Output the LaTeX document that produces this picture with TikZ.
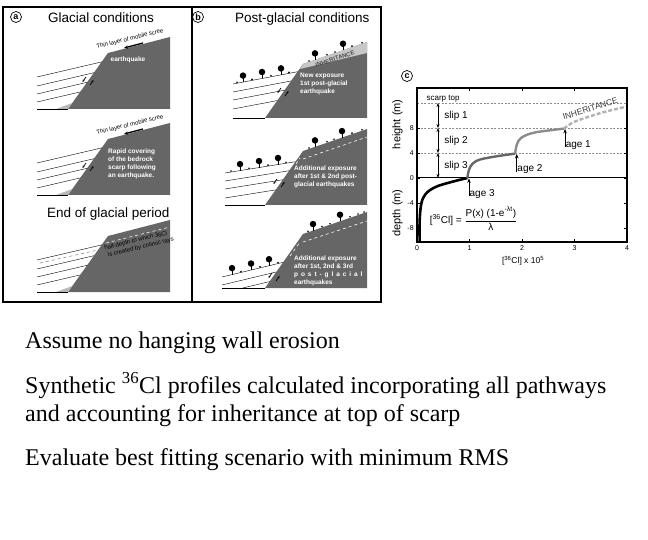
\documentclass[tikz,border=0pt]{standalone}
\usepackage{amsmath}
\usepackage{fontspec}
\setmainfont{Liberation Sans}
\newfontfamily\slidefont{Liberation Serif}
\usetikzlibrary{arrows.meta}

\begin{document}
\begin{tikzpicture}[x=1pt, y=-1pt,
  fw/.style={fill=black!60},
  lay/.style={line width=0.4pt},
  wedge/.style={fill=black!28},
  wtxt/.style={text=white, font=\bfseries\fontsize{6.5}{8}\selectfont, align=left, inner sep=0pt},
  btxt/.style={font=\fontsize{6}{7.5}\selectfont, inner sep=0pt},
  ttl/.style={font=\fontsize{13.5}{15}\selectfont, inner sep=0pt, anchor=base west},
  tag/.style={circle, draw, line width=0.7pt, inner sep=0pt, minimum size=11pt, font=\bfseries\fontsize{9}{9}\selectfont},
  tree/.style={circle, fill, inner sep=0pt, minimum size=6.5pt},
  trunk/.style={line width=0.8pt},
  sarr/.style={-{Stealth[length=2.5pt,width=2.2pt]}, line width=0.7pt},
  scr/.style={-{Stealth[length=4pt,width=3.2pt]}, line width=1.3pt},
  halfd/.style={white, dash pattern=on 3pt off 3pt, line width=0.6pt},
  slide/.style={font=\slidefont\fontsize{24}{28}\selectfont, inner sep=0pt, anchor=base west},
  tlab/.style={font=\fontsize{7}{8}\selectfont, inner sep=1pt},
  plab/.style={font=\fontsize{10}{12}\selectfont, inner sep=1pt},
  alab/.style={font=\fontsize{11}{12}\selectfont, inner sep=0pt},
  gline/.style={black!45, dash pattern=on 2pt off 1.5pt, line width=0.5pt},
  darr/.style={{Stealth[length=4pt,width=3pt]}-{Stealth[length=4pt,width=3pt]}, line width=0.8pt},
  uarr/.style={-{Stealth[length=4.5pt,width=3.5pt]}, line width=0.8pt}]

\fill[white] (0,0) rectangle (648,540);
\useasboundingbox (0,0) rectangle (648,540);

\draw[line width=1.4pt] (3,7) rectangle (381,302);
\draw[line width=1.2pt] (192,7) -- (192,302);

\node[tag] (taga) at (16,17) {a};
\node[ttl] (ttla) at (48,23) {Glacial conditions};
\node[tag] (tagb) at (198,17) {b};
\node[ttl] (ttlb) at (235,23) {Post-glacial conditions};
\node[ttl] (ttla3) at (47,218) {End of glacial period};

\foreach \dy in {0,86,183}{
\begin{scope}[shift={(0,\dy)}]
\fill[fw] (68,109) -- (108,53) -- (170,37) -- (170,109) -- cycle;
\begin{scope}
\clip (37,109) -- (68,109) -- (108,53) -- (37,53) -- cycle;
\foreach \y in {77,86,94,102} \draw[lay] (37,\y) -- ++(90,-21);
\fill[wedge] (56,109) -- (68,109) -- (72.3,103) -- cycle;
\end{scope}
\draw[lay] (37,109) -- (68,109);
\end{scope}
}

\foreach \c in {81,167}{
\begin{scope}[shift={(88,\c)}]
\draw[sarr] (-2,-4) -- (-5.5,1);
\draw[sarr] (2,4) -- (5.5,-1);
\end{scope}
}

\node[wtxt] (eq) at (128,60) {earthquake};
\node[btxt, rotate=14] (scree1) at (130,39) {Thin layer of mobile scree};
\draw[scr] (143,43) -- (124,48);

\node[btxt, rotate=14] (scree2) at (130,125) {Thin layer of mobile scree};
\draw[scr] (143,129) -- (124,134);
\node[wtxt, anchor=north west] (rapid) at (108,149) {Rapid covering\\of the bedrock\\scarp following\\an earthquake.};

\draw[halfd] (106,243) -- (170,227);
\draw[black!45, dash pattern=on 3pt off 3pt, line width=0.6pt] (40,263) -- (98,250);
\node[btxt, rotate=13.5, align=left] (hd) at (139,244) {half-depth to which 36Cl\\\hspace*{2pt}is created by cosmic rays};

\foreach \yb/\xl/\yt/\sl in {118/233/84/-19, 205/225/173/-16, 288/222/277/-24}{
\fill[fw] (265,\yb) -- (303,\yb-54) -- (367,\yb-76) -- (367,\yb) -- cycle;
\begin{scope}
\clip (\xl,\yb) -- (265,\yb) -- (303,\yb-54) -- (\xl,\yb-54) -- cycle;
\foreach \k in {0,8,16,25} \draw[lay] (\xl,\yt+\k) -- ++(100,\sl);
\end{scope}
\draw[lay] (\xl,\yb) -- (265,\yb);
}

\fill[black!22] (303,64) -- (367,42) -- (367,53) -- (300,69) -- cycle;
\node[font=\bfseries\fontsize{6}{7}\selectfont, text=black!70, rotate=18, inner sep=0pt] (inh) at (335,59) {INHERITANCE};
\draw[white, line width=0.6pt] (297,71) -- (300,67);
\draw[halfd] (303,159) -- (367,137);
\draw[halfd] (303,242) -- (367,221);
\draw[halfd] (296,164) -- (300,158);
\draw[halfd] (290,256) -- (300,242);

\foreach \cx/\cy in {283/92,279/183,274/277}{
\begin{scope}[shift={(\cx,\cy)}]
\draw[sarr] (-2,-4) -- (-5.5,1);
\draw[sarr] (2,4) -- (5.5,-1);
\end{scope}
}

\foreach \x in {243,262,281}{
\draw[trunk] (\x,{84-0.19*(\x-233)}) -- ++(0,-4);
\node[tree] (ta\x) at (\x,{84-0.19*(\x-233)-6.5}) {};
}
\foreach \x in {315,343}{
\draw[trunk] (\x,{64-0.344*(\x-303)}) -- ++(0,-4);
\node[tree] (tb\x) at (\x,{64-0.344*(\x-303)-6.5}) {};
}
\foreach \x in {240,259,278}{
\draw[trunk] (\x,{173-0.16*(\x-225)}) -- ++(0,-4);
\node[tree] (tc\x) at (\x,{173-0.16*(\x-225)-6.5}) {};
}
\foreach \x in {315,342}{
\draw[trunk] (\x,{151-0.344*(\x-303)}) -- ++(0,-4);
\node[tree] (td\x) at (\x,{151-0.344*(\x-303)-6.5}) {};
}
\foreach \x in {232,251,269}{
\draw[trunk] (\x,{277-0.24*(\x-222)}) -- ++(0,-4);
\node[tree] (te\x) at (\x,{277-0.24*(\x-222)-6.5}) {};
}
\foreach \x in {313,340}{
\draw[trunk] (\x,{234-0.344*(\x-303)}) -- ++(0,-4);
\node[tree] (tf\x) at (\x,{234-0.344*(\x-303)-6.5}) {};
}

\foreach \x in {237,252,271,289} \fill (\x,{84-0.19*(\x-233)-1}) circle (0.9);
\foreach \x in {309,327,335,352,362} \fill (\x,{64-0.344*(\x-303)-1}) circle (0.9);
\foreach \x in {231,249,268,286} \fill (\x,{173-0.16*(\x-225)-1}) circle (0.9);
\foreach \x in {309,327,334,352,362} \fill (\x,{151-0.344*(\x-303)-1}) circle (0.9);
\foreach \x in {241,260,278} \fill (\x,{277-0.24*(\x-222)-1}) circle (0.9);
\foreach \x in {308,322,330,350,358,364} \fill (\x,{234-0.344*(\x-303)-1}) circle (0.9);

\node[wtxt, anchor=north west] (newx) at (300,73) {New exposure\\1st post-glacial\\earthquake};
\node[wtxt, anchor=north west] (add2) at (294,166) {Additional exposure\\after 1st \& 2nd post-\\glacial earthquakes};
\node[wtxt, anchor=north west] (add3) at (294,256) {Additional exposure\\after 1st, 2nd \& 3rd\\{\addfontfeature{LetterSpace=45}post-glacial}\\earthquakes};

\node[tag] (tagc) at (407,76) {c};

\begin{scope}[shift={(417,178)}, x=52.5pt, y=6.25pt]
\foreach \h in {4,8,12} \draw[gline] (0,\h) -- (4,\h);
\draw[line width=1pt] (0,0) -- (4,0);
\foreach \h in {-8,-4,0,4,8}{
\draw (0,\h) -- (0.06,\h);
\draw (4,\h) -- (3.94,\h);
\node[tlab, anchor=east] (yl\h) at (-0.04,\h) {\h};
}
\foreach \v in {0,...,4}{
\draw (\v,-10.24) -- (\v,-9.7);
\draw (\v,14.4) -- (\v,13.9);
\node[tlab, anchor=north] (xl\v) at (\v,-10.6) {\v};
}
\draw[line width=1.6pt] (0,-10.24) rectangle (4,14.4);

\draw[line width=2.6pt] plot[smooth, tension=0.6] coordinates {(0.05,-10.1) (0.05,-7) (0.08,-4.2) (0.16,-2.6) (0.35,-1.45) (0.65,-0.65) (0.96,0)};
\draw[line width=2.4pt, black!60] plot[smooth, tension=0.6] coordinates {(0.96,0) (0.99,1.3) (1.06,2.3) (1.2,2.95) (1.5,3.45) (1.87,3.9)};
\draw[line width=2.4pt, black!45] plot[smooth, tension=0.6] coordinates {(1.87,3.9) (1.9,5.3) (1.98,6.4) (2.2,7.2) (2.55,7.65) (2.8,7.9)};
\draw[line width=2.4pt, black!30, dash pattern=on 4pt off 2pt] plot[smooth] coordinates {(2.8,7.9) (3.0,9) (3.5,10.4) (3.98,11.4)};

\coordinate (s0) at (0.4,0);
\coordinate (s4) at (0.4,4);
\coordinate (s8) at (0.4,8);
\coordinate (s12) at (0.4,12);
\draw[darr] (s12) -- (s8);
\draw[darr] (s8) -- (s4);
\draw[darr] (s4) -- (s0);
\node[tlab, anchor=south west, font=\fontsize{8}{9}\selectfont] (stop) at (0.16,12) {scarp top};
\node[plab, anchor=west] (sl1) at (0.5,10) {slip 1};
\node[plab, anchor=west] (sl2) at (0.5,6) {slip 2};
\node[plab, anchor=west] (sl3) at (0.5,2) {slip 3};

\coordinate (a1b) at (2.82,4.9);
\coordinate (a1t) at (2.82,7.85);
\coordinate (a2b) at (1.9,1.0);
\coordinate (a2t) at (1.9,3.85);
\coordinate (a3b) at (0.99,-2.9);
\coordinate (a3t) at (0.99,-0.05);
\draw[uarr] (a1b) -- (a1t);
\draw[uarr] (a2b) -- (a2t);
\draw[uarr] (a3b) -- (a3t);
\node[plab, anchor=base west, inner sep=0.5pt] (ag1) at (a1b) {age 1};
\node[plab, anchor=base west, inner sep=0.5pt] (ag2) at (a2b) {age 2};
\node[plab, anchor=base west, inner sep=0.5pt] (ag3) at (a3b) {age 3};

\node[font=\fontsize{8.5}{10}\selectfont, text=black!75, rotate=17, inner sep=0pt] (inh2) at (3.3,11.1) {INHERITANCE};
\node[plab, anchor=west] (frm) at (0.22,-6.5) {[\textsuperscript{36}Cl] = $\dfrac{\text{P(x) (1-e}^{\text{-λt}}\text{)}}{\text{λ}}$};

\node[alab, rotate=90] (hgt) at (-0.37,8.6) {height (m)};
\node[alab, rotate=90] (dpt) at (-0.37,-5.6) {depth (m)};
\node[tlab, font=\fontsize{8.5}{10}\selectfont] (xlab) at (2.02,-13.2) {[\textsuperscript{36}Cl] x 10\textsuperscript{5}};
\end{scope}

\node[slide] (t1) at (25,348) {Assume no hanging wall erosion};
\node[slide] (t2) at (25,393) {Synthetic \textsuperscript{36}Cl profiles calculated incorporating all pathways};
\node[slide] (t3) at (25,421) {and accounting for inheritance at top of scarp};
\node[slide] (t4) at (25,465) {Evaluate best fitting scenario with minimum RMS};

\end{tikzpicture}
\end{document}
